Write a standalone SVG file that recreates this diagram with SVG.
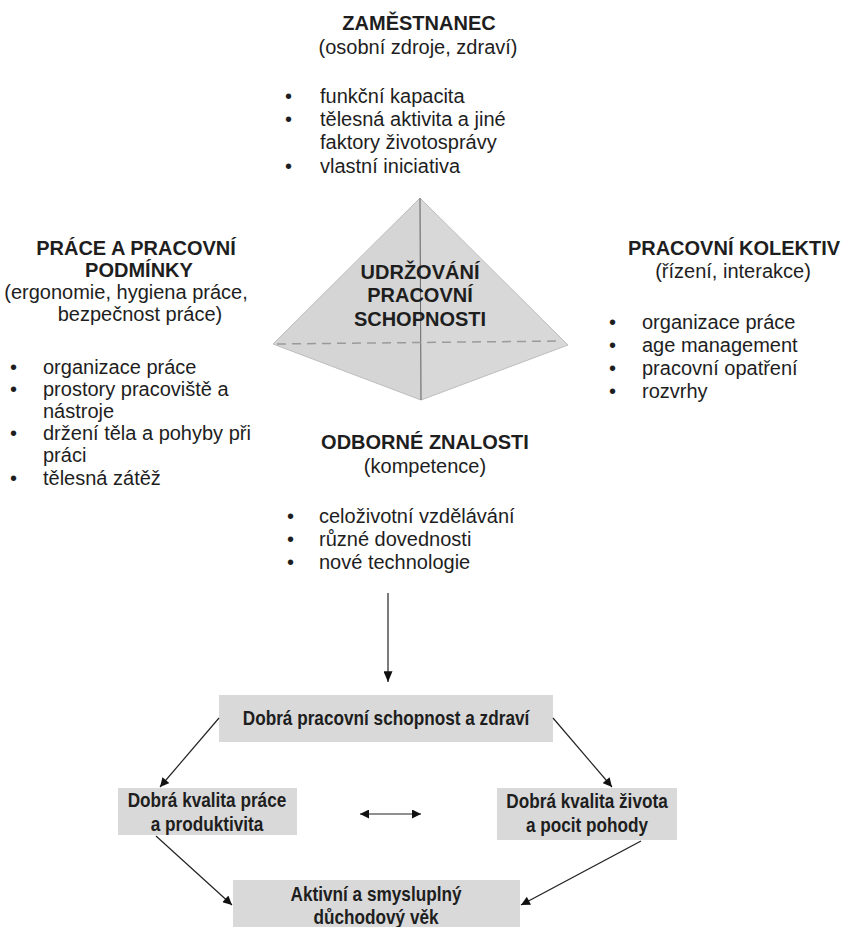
<svg xmlns="http://www.w3.org/2000/svg" width="843" height="927" viewBox="0 0 843 927">
<style>
text{font-family:"Liberation Sans",Arial,sans-serif;fill:#1e1e1e;font-size:20px}
.b{font-weight:bold}
.c{text-anchor:middle}
.bx{font-weight:bold;font-size:20px;text-anchor:middle}
.box{fill:#d9d9d9}
.ln{stroke:#222;stroke-width:1.2;fill:none}
</style>
<defs>
<marker id="ah" viewBox="0 0 10 10" refX="10" refY="5" markerWidth="10" markerHeight="9" markerUnits="userSpaceOnUse" orient="auto-start-reverse">
<path d="M0,0 L10,5 L0,10 z" fill="#111"/>
</marker>
<marker id="ah2" viewBox="0 0 12 10" refX="12" refY="5" markerWidth="12" markerHeight="9" markerUnits="userSpaceOnUse" orient="auto-start-reverse">
<path d="M0,0 L12,5 L0,10 z" fill="#111"/>
</marker>
</defs>
<rect width="843" height="927" fill="#fff"/>

<g id="pyramid">
<polygon points="420,198 273,344 421,400" fill="#d5d5d5" stroke="#bdbdbd" stroke-width="1"/>
<polygon points="420,198 568,345 421,400" fill="#d8d8d8" stroke="#bdbdbd" stroke-width="1"/>
<line x1="420" y1="198" x2="421" y2="400" stroke="#6e6e6e" stroke-width="1"/>
<line x1="277" y1="344" x2="562" y2="341" stroke="#9a9a9a" stroke-width="1.5" stroke-dasharray="9,6"/>
<text class="b c" x="420" y="279">UDRŽOVÁNÍ</text>
<text class="b c" x="420" y="302">PRACOVNÍ</text>
<text class="b c" x="420" y="326">SCHOPNOSTI</text>
</g>

<g id="zamestnanec">
<text class="b c" x="419" y="30">ZAMĚSTNANEC</text>
<text class="c" x="418" y="54">(osobní zdroje, zdraví)</text>
<text x="285" y="103">•</text><text x="320" y="103">funkční kapacita</text>
<text x="285" y="126">•</text><text x="320" y="126">tělesná aktivita a jiné</text>
<text x="320" y="149">faktory životosprávy</text>
<text x="285" y="173">•</text><text x="320" y="173">vlastní iniciativa</text>
</g>

<g id="prace">
<text class="b c" x="136" y="255">PRÁCE A PRACOVNÍ</text>
<text class="b c" x="139" y="277">PODMÍNKY</text>
<text class="c" x="126" y="299">(ergonomie, hygiena práce,</text>
<text class="c" x="140" y="321">bezpečnost práce)</text>
<text x="10" y="374">•</text><text x="43" y="374">organizace práce</text>
<text x="10" y="396">•</text><text x="43" y="396">prostory pracoviště a</text>
<text x="43" y="418">nástroje</text>
<text x="10" y="440">•</text><text x="43" y="440">držení těla a pohyby při</text>
<text x="43" y="462">práci</text>
<text x="10" y="485">•</text><text x="43" y="485">tělesná zátěž</text>
</g>

<g id="kolektiv">
<text class="b c" x="734" y="255">PRACOVNÍ KOLEKTIV</text>
<text class="c" x="733" y="278">(řízení, interakce)</text>
<text x="609" y="329">•</text><text x="642" y="329">organizace práce</text>
<text x="609" y="352">•</text><text x="642" y="352">age management</text>
<text x="609" y="375">•</text><text x="642" y="375">pracovní opatření</text>
<text x="609" y="398">•</text><text x="642" y="398">rozvrhy</text>
</g>

<g id="znalosti">
<text class="b c" x="425" y="449">ODBORNÉ ZNALOSTI</text>
<text class="c" x="425" y="473">(kompetence)</text>
<text x="287" y="523">•</text><text x="319" y="523">celoživotní vzdělávání</text>
<text x="287" y="546">•</text><text x="319" y="546">různé dovednosti</text>
<text x="287" y="569">•</text><text x="319" y="569">nové technologie</text>
</g>

<g id="box-zdravi">
<rect class="box" x="219" y="695" width="334" height="47"/>
<text class="bx" transform="translate(386,725) scale(0.86,1)">Dobrá pracovní schopnost a zdraví</text>
</g>

<g id="box-prace">
<rect class="box" x="118" y="788" width="179" height="47"/>
<text class="bx" transform="translate(207,807) scale(0.86,1)">Dobrá kvalita práce</text>
<text class="bx" transform="translate(207,831) scale(0.86,1)">a produktivita</text>
</g>

<g id="box-zivot">
<rect class="box" x="497" y="788" width="180" height="52"/>
<text class="bx" transform="translate(587,808) scale(0.86,1)">Dobrá kvalita života</text>
<text class="bx" transform="translate(587,832) scale(0.86,1)">a pocit pohody</text>
</g>

<g id="box-duchod">
<rect class="box" x="233" y="880" width="287" height="47"/>
<text class="bx" transform="translate(376,901) scale(0.86,1)">Aktivní a smysluplný</text>
<text class="bx" transform="translate(376,924) scale(0.86,1)">důchodový věk</text>
</g>

<g id="connectors">
<line class="ln" x1="388" y1="593" x2="388" y2="682" marker-end="url(#ah2)"/>
<line class="ln" x1="219" y1="718" x2="160" y2="787" marker-end="url(#ah)"/>
<line class="ln" x1="553" y1="718" x2="612" y2="787" marker-end="url(#ah)"/>
<line class="ln" x1="360" y1="814" x2="421" y2="814" marker-start="url(#ah)" marker-end="url(#ah)"/>
<line class="ln" x1="156" y1="836" x2="232" y2="905" marker-end="url(#ah)"/>
<line class="ln" x1="641" y1="841" x2="521" y2="905" marker-end="url(#ah)"/>
</g>
</svg>
